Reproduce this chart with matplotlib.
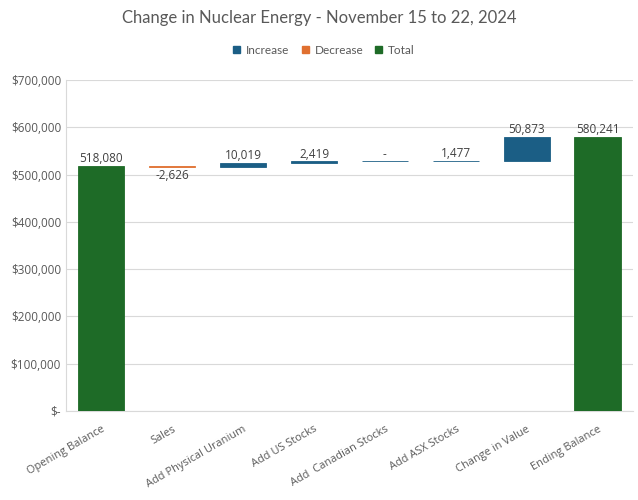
import matplotlib.pyplot as plt
import matplotlib.ticker as mticker
from matplotlib.patches import Patch

categories = ["Opening Balance", "Sales", "Add Physical Uranium", "Add US Stocks",
              "Add  Canadian Stocks", "Add ASX Stocks", "Change in Value", "Ending Balance"]
values = [518080, -2626, 10019, 2419, 0, 1477, 50873, 580241]
kinds = ["total", "dec", "inc", "inc", "inc", "inc", "inc", "total"]
labels = ["518,080", "-2,626", "10,019", "2,419", "-", "1,477", "50,873", "580,241"]

colors = {"inc": "#1B5E85", "dec": "#E07030", "total": "#1E6B27"}

fig = plt.figure(figsize=(6.38, 5), dpi=100)
ax = fig.add_axes([0.1034, 0.178, 0.8887, 0.662])

running = 0
for i, (v, k, lab) in enumerate(zip(values, kinds, labels)):
    if k == "total":
        bottom, height = 0, v
        running = v
    else:
        bottom = running if v >= 0 else running + v
        height = abs(v)
        running += v
    # edge keeps tiny / zero steps visible as a thin line
    ax.bar(i, height, bottom=bottom, width=0.65, color=colors[k],
           edgecolor=colors[k], linewidth=0.6, zorder=3)
    if v < 0:
        ax.text(i, bottom - 3500, lab, ha="center", va="top", fontsize=8.5,
                color="#404040", family="Open Sans")
    else:
        ax.text(i, bottom + height + 1500, lab, ha="center", va="bottom", fontsize=8.5,
                color="#404040", family="Open Sans")

ax.set_xlim(-0.5, len(values) - 0.5)
ax.set_ylim(0, 700000)
ax.yaxis.set_major_locator(mticker.MultipleLocator(100000))
ax.yaxis.set_major_formatter(mticker.FuncFormatter(
    lambda y, p: "$-" if y == 0 else f"${y:,.0f}"))
ax.grid(axis="y", color="#D9D9D9", lw=0.8, zorder=0)
ax.set_xticks(range(len(categories)))
ax.set_xticklabels(categories, rotation=30, ha="right", rotation_mode="anchor")
ax.tick_params(axis="both", length=0, labelcolor="#595959")
ax.tick_params(axis="y", labelsize=8.5)
ax.tick_params(axis="x", labelsize=7.9, pad=9)
for lab in ax.get_xticklabels() + ax.get_yticklabels():
    lab.set_family("Open Sans")
for s in ["top", "right"]:
    ax.spines[s].set_visible(False)
ax.spines["left"].set_color("#D9D9D9")
ax.spines["bottom"].set_color("#D9D9D9")

fig.text(0.5, 0.964, "Change in Nuclear Energy - November 15 to 22, 2024", ha="center",
         va="center", fontsize=12, color="#595959", family="Lato")
handles = [Patch(color=colors["inc"], label="Increase"),
           Patch(color=colors["dec"], label="Decrease"),
           Patch(color=colors["total"], label="Total")]
leg = fig.legend(handles=handles, loc="center", bbox_to_anchor=(0.508, 0.9), ncol=3,
                 frameon=False, handlelength=0.6, handleheight=0.6, handletextpad=0.5,
                 columnspacing=1.0, prop={"family": "Lato", "size": 8.5})
for t in leg.get_texts():
    t.set_color("#595959")

fig.savefig("out.png", dpi=100)
